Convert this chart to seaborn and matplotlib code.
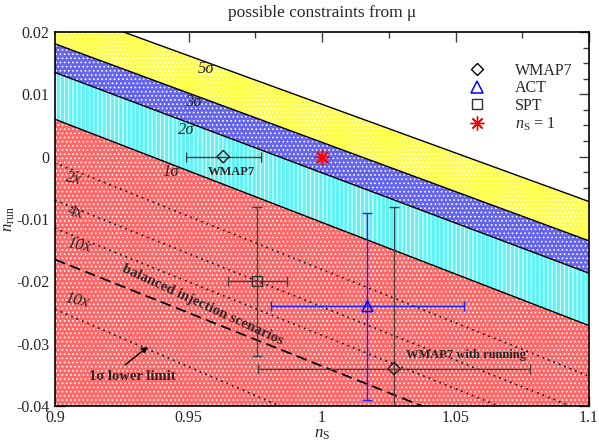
import numpy as np
import pandas as pd
import matplotlib
matplotlib.use("Agg")
import matplotlib.pyplot as plt
from matplotlib.lines import Line2D
from matplotlib.ticker import MultipleLocator
import seaborn as sns

# Spectral index range spanned by the constraint lines
ns_edges = [0.9, 1.1]

# Upper limits on the running from mu-distortions, at the two ends of the range
limit_5sigma = [0.0240, -0.0072]
limit_3sigma = [0.0181, -0.0135]
limit_2sigma = [0.0135, -0.0187]
limit_1sigma = [0.0060, -0.0271]

# Dotted lines for enhanced sensitivity, and the balanced-injection line
line_2x = [-0.0010, -0.0352]
line_4x = [-0.0070, -0.0412]
line_10x = [-0.0115, -0.0458]
line_10x_low = [-0.0245, -0.0613]
balanced_run = [-0.0165, -0.0507]

# Measurements (n_S, n_run) with 1-sigma errors
wmap7_ns, wmap7_ns_err = 0.963, 0.014
wmap7_run = 0.0
act_ns, act_ns_err = 1.017, 0.036
act_run, act_run_err = -0.024, 0.015
spt_ns, spt_ns_err = 0.9758, 0.0111
spt_run, spt_run_err = -0.020, 0.012
wmap7r_ns, wmap7r_ns_err = 1.027, 0.051
wmap7r_run, wmap7r_run_err = -0.034, 0.026
scale_inv_ns, scale_inv_run = 1.0, 0.0

sns.set_theme(style="ticks")
plt.rcParams["font.family"] = ["Liberation Serif", "DejaVu Serif"]
plt.rcParams["mathtext.fontset"] = "custom"
plt.rcParams["mathtext.rm"] = "Liberation Serif"
plt.rcParams["mathtext.it"] = "Liberation Serif:italic"
plt.rcParams["hatch.linewidth"] = 0.7

fig = plt.figure(figsize=(5.99, 4.42), dpi=100)
ax = fig.add_axes([55 / 599, 1 - 406 / 442, 534 / 599, 374 / 442])

# Shaded bands with a light stipple texture
x = np.array(ns_edges)
floor = np.array([-0.07, -0.07])
bands = [
    (limit_5sigma, limit_3sigma, "#ffff48", "...."),
    (limit_3sigma, limit_2sigma, "#6464ee", "...."),
    (limit_2sigma, limit_1sigma, "#5cf4f4", "||||"),
    (limit_1sigma, floor, "#ff6868", "...."),
]
for upper, lower, col, hatch in bands:
    ax.fill_between(x, upper, lower, facecolor=col, edgecolor="white", linewidth=0,
                    hatch=hatch, zorder=1)

bounds = pd.DataFrame({
    "ns": ns_edges * 4,
    "run": limit_5sigma + limit_3sigma + limit_2sigma + limit_1sigma,
    "level": ["5"] * 2 + ["3"] * 2 + ["2"] * 2 + ["1"] * 2,
})
sns.lineplot(data=bounds, x="ns", y="run", units="level", estimator=None,
             color="black", lw=1.0, ax=ax, zorder=2)

dotted = pd.DataFrame({
    "ns": ns_edges * 4,
    "run": line_2x + line_4x + line_10x + line_10x_low,
    "scale": ["2x"] * 2 + ["4x"] * 2 + ["10x"] * 2 + ["10x_low"] * 2,
})
sns.lineplot(data=dotted, x="ns", y="run", units="scale", estimator=None,
             color="#101010", lw=1.2, ls=(0, (1, 2.5)), ax=ax, zorder=2)
sns.lineplot(x=ns_edges, y=balanced_run, color="black", lw=1.3,
             ls=(0, (6, 3)), ax=ax, zorder=2)

# Error bars
ax.errorbar(wmap7_ns, wmap7_run, xerr=wmap7_ns_err, fmt="none", ecolor="#404040",
            elinewidth=1, capsize=3.5, zorder=3)
ax.errorbar(spt_ns, spt_run, xerr=spt_ns_err, yerr=spt_run_err, fmt="none",
            ecolor="#404040", elinewidth=1, capsize=3.5, zorder=3)
ax.errorbar(act_ns, act_run, xerr=act_ns_err, yerr=act_run_err, fmt="none",
            ecolor="#2020ff", elinewidth=1, capsize=3.5, zorder=3)
ax.errorbar(wmap7r_ns, wmap7r_run, xerr=wmap7r_ns_err, yerr=wmap7r_run_err, fmt="none",
            ecolor="#404040", elinewidth=1, capsize=3.5, zorder=3)

pts = pd.DataFrame({
    "ns": [wmap7_ns, wmap7r_ns],
    "run": [wmap7_run, wmap7r_run],
})
sns.scatterplot(data=pts, x="ns", y="run", marker="D", s=40, facecolor="none",
                edgecolor="#202020", linewidth=1, ax=ax, zorder=4)
sns.scatterplot(x=[act_ns], y=[act_run], marker="^", s=60, facecolor="none",
                edgecolor="#0000ff", linewidth=1.1, ax=ax, zorder=4)
sns.scatterplot(x=[spt_ns], y=[spt_run], marker="s", s=50, facecolor="none",
                edgecolor="#303030", linewidth=1, ax=ax, zorder=4)
sns.scatterplot(x=[scale_inv_ns], y=[scale_inv_run], marker=(8, 2, 0), s=110,
                color="#ff0000", linewidth=1, ax=ax, zorder=4)

# Labels on the constraint bands
for txt, xx, yy in [("5σ", 0.9566, 0.0141), ("3σ", 0.9517, 0.0087),
                    ("2σ", 0.9491, 0.0043), ("1σ", 0.9434, -0.0025)]:
    ax.text(xx, yy, txt, fontsize=12, style="italic", ha="center", va="center", zorder=5)
for txt, xx, yy in [("2x", 0.9069, -0.0036), ("4x", 0.9075, -0.0090),
                    ("10x", 0.9090, -0.0142), ("10x", 0.9081, -0.0231)]:
    ax.text(xx, yy, txt, fontsize=12, style="italic", ha="center", va="center",
            rotation=-12, zorder=5)

ax.text(0.9662, -0.0025, "WMAP7", fontsize=9, fontweight="bold", ha="center",
        va="center", zorder=5)
ax.text(1.0539, -0.0318, "WMAP7 with running", fontsize=9, fontweight="bold",
        ha="center", va="center", zorder=5)
ax.text(0.9554, -0.0238, "balanced injection scenarios", fontsize=10.5, fontweight="bold",
        ha="center", va="center", rotation=-24.7, rotation_mode="anchor", zorder=5)
ax.text(0.9288, -0.0352, "1σ lower limit", fontsize=10.5, fontweight="bold",
        ha="center", va="center", zorder=5)
ax.annotate("", xy=(0.9356, -0.0302), xytext=(0.9254, -0.0337),
            arrowprops=dict(arrowstyle="-|>", color="black", lw=1, mutation_scale=9),
            zorder=5)

# Legend
handles = [
    Line2D([], [], ls="none", marker="D", mfc="none", mec="black", ms=6.5, mew=1),
    Line2D([], [], ls="none", marker="^", mfc="none", mec="#0000ff", ms=8, mew=1.1),
    Line2D([], [], ls="none", marker="s", mfc="none", mec="#303030", ms=7, mew=1),
    Line2D([], [], ls="none", marker=(8, 2, 0), color="#ff0000", ms=10, mew=1),
]
labels = ["WMAP7", "ACT", "SPT", r"$n_{\mathrm{S}}$ = 1"]
ax.legend(handles, labels, loc="upper left", bbox_to_anchor=(0.763, 0.935), frameon=False,
          fontsize=11.5, handlelength=1.0, handletextpad=1.9, labelspacing=0.1,
          borderaxespad=0)

ax.set_xlim(0.9, 1.1)
ax.set_ylim(-0.04, 0.02)
ax.xaxis.set_minor_locator(MultipleLocator(0.025))
ax.yaxis.set_minor_locator(MultipleLocator(0.0025))
ax.set_xticks([0.9, 0.95, 1.0, 1.05, 1.1])
ax.set_xticklabels(["0.9", "0.95", "1", "1.05", "1.1"])
ax.set_yticks([-0.04, -0.03, -0.02, -0.01, 0, 0.01, 0.02])
ax.set_yticklabels(["-0.04", "-0.03", "-0.02", "-0.01", "0", "0.01", "0.02"])
ax.tick_params(which="both", direction="in", top=True, right=True, labelsize=11.5,
               color="#404040", width=1)
ax.tick_params(which="major", length=7)
ax.tick_params(axis="x", which="major", pad=3)
ax.tick_params(axis="y", which="major", pad=4)
ax.tick_params(which="minor", length=4)
for sp in ax.spines.values():
    sp.set_linewidth(1.2)
    sp.set_color("black")
    sp.set_zorder(6)

ax.set_xlabel(r"$n_{\mathrm{S}}$", fontsize=12, va="center")
ax.set_ylabel(r"$n_{\mathrm{run}}$", fontsize=12, va="center")
ax.xaxis.set_label_coords(0.5, -(434 - 406) / 374)
ax.yaxis.set_label_coords(-(55 - 9) / 534, 0.5)
fig.text((55 + 589) / 2 / 599, 1 - 13 / 442, "possible constraints from μ", fontsize=12.5,
         ha="center", va="center")

fig.savefig("out.png", dpi=100)
